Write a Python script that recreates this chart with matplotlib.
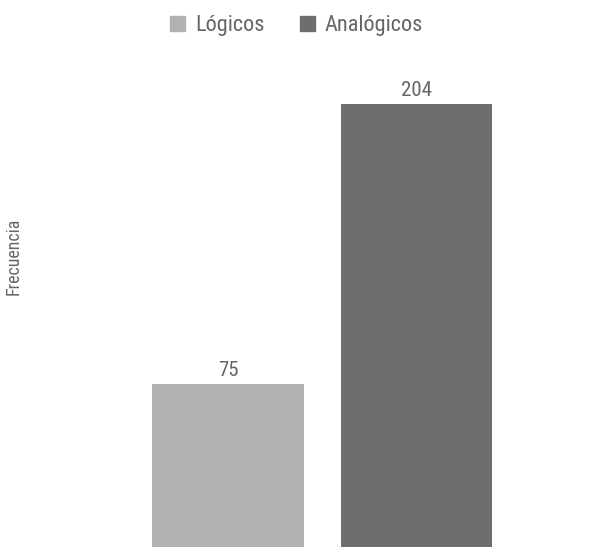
import matplotlib.pyplot as plt
from matplotlib import font_manager

categorias = ['Lógicos', 'Analógicos']
valores = [75, 204]
colores = ['#B2B2B2', '#6E6E6E']

# busca una fuente estrecha instalada
archivos = sorted(set(f.fname for f in font_manager.fontManager.ttflist)
                  | set(font_manager.findSystemFonts()))
preferidas = ['RobotoCondensed-Regular', 'RobotoCondensed-Light', 'RobotoCondensed',
              'BarlowSemiCondensed-Light', 'ArchivoNarrow', 'DejaVuSansCondensed']
fuente = None
for p in preferidas:
    cand = [a for a in archivos if p in a and 'Italic' not in a]
    if cand:
        fuente = cand[0]
        break
gris = '#666666'


def fp(size):
    if fuente:
        return font_manager.FontProperties(fname=fuente, size=size)
    return font_manager.FontProperties(family='DejaVu Sans', size=size)


fig = plt.figure(figsize=(5.95, 5.47), dpi=100)
ax = fig.add_axes([0.2244, 0.0, 0.635, 1.0])

barras = ax.bar(range(len(valores)), valores, width=0.8, color=colores)
for b, v in zip(barras, valores):
    ax.annotate(str(v), (b.get_x() + b.get_width() / 2, v), xytext=(0, 3),
                textcoords='offset points', ha='center', va='bottom',
                fontproperties=fp(15), color=gris)

ax.set_xlim(-0.5, 1.5)
ax.set_ylim(0, 251.8)
for s in ax.spines.values():
    s.set_visible(False)
ax.set_xticks([])
ax.set_yticks([])

fig.text(0.0235, 0.532, 'Frecuencia', rotation=90, ha='center', va='center',
         fontproperties=fp(13), color=gris)

handles = [plt.Rectangle((0, 0), 1, 1, color=c) for c in colores]
fig.legend(handles, categorias, loc='center', bbox_to_anchor=(296.5 / 595, 1 - 26 / 547),
           ncol=2, frameon=False, prop=fp(16), labelcolor=gris,
           handlelength=0.67, handleheight=0.67, handletextpad=0.45, columnspacing=1.6)

fig.savefig('out.png', dpi=100)
